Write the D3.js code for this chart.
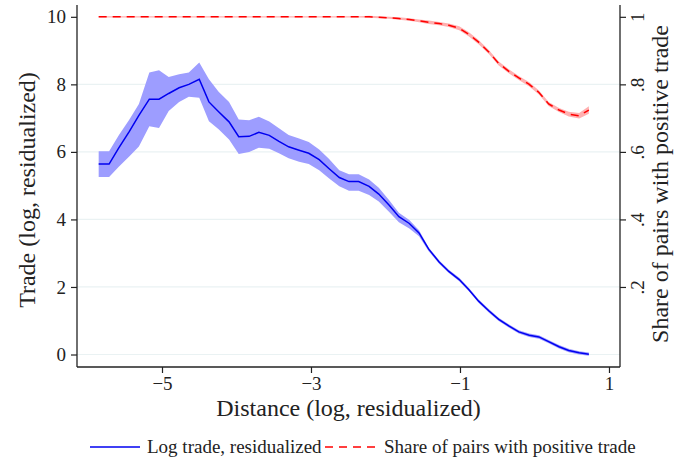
<!DOCTYPE html>
<html>
<head>
<meta charset="utf-8">
<script src="https://cdn.jsdelivr.net/npm/d3@7"></script>
<style>
  body { margin: 0; background: #fff; }
  svg { display: block; font-family: "Liberation Serif", "Times New Roman", serif; }
</style>
</head>
<body>
<div id="plot"></div>
<script>

// ############ DATA ###############

// distance (log, residualized), one bin every ~0.134
const dist = [-5.85, -5.71, -5.58, -5.44, -5.31, -5.17, -5.04, -4.91, -4.77, -4.64,
  -4.50, -4.37, -4.24, -4.10, -3.97, -3.83, -3.70, -3.56, -3.43, -3.30,
  -3.16, -3.03, -2.89, -2.76, -2.62, -2.49, -2.36, -2.22, -2.09, -1.95,
  -1.82, -1.68, -1.55, -1.42, -1.28, -1.15, -1.01, -0.88, -0.75, -0.61,
  -0.48, -0.34, -0.21, -0.07, 0.06, 0.19, 0.33, 0.46, 0.60, 0.73];

const trade = [5.64, 5.64, 6.12, 6.60, 7.08, 7.56, 7.56, 7.73, 7.90, 8.00,
  8.15, 7.48, 7.19, 6.89, 6.45, 6.46, 6.58, 6.49, 6.31, 6.15,
  6.05, 5.96, 5.77, 5.51, 5.24, 5.12, 5.12, 4.98, 4.75, 4.42,
  4.08, 3.88, 3.60, 3.12, 2.74, 2.46, 2.22, 1.92, 1.58, 1.29,
  1.04, 0.84, 0.67, 0.57, 0.52, 0.38, 0.23, 0.12, 0.05, 0.01];

const tradeHi = [6.02, 6.02, 6.49, 6.95, 7.42, 8.35, 8.42, 8.22, 8.30, 8.35,
  8.65, 8.15, 7.78, 7.48, 6.96, 6.94, 7.04, 6.90, 6.70, 6.50,
  6.40, 6.29, 6.07, 5.80, 5.46, 5.34, 5.34, 5.18, 4.94, 4.57,
  4.20, 3.98, 3.68, 3.17, 2.79, 2.51, 2.27, 1.97, 1.63, 1.34,
  1.09, 0.89, 0.72, 0.62, 0.57, 0.43, 0.28, 0.17, 0.10, 0.06];

const tradeLo = [5.26, 5.26, 5.56, 5.86, 6.16, 6.76, 6.71, 7.21, 7.48, 7.63,
  7.60, 6.91, 6.67, 6.37, 5.94, 6.00, 6.12, 6.09, 5.96, 5.81,
  5.71, 5.64, 5.46, 5.22, 4.98, 4.85, 4.85, 4.72, 4.53, 4.22,
  3.92, 3.73, 3.50, 3.06, 2.69, 2.41, 2.17, 1.87, 1.53, 1.24,
  0.99, 0.79, 0.62, 0.52, 0.47, 0.33, 0.18, 0.07, 0.00, -0.04];

const share = [1, 1, 1, 1, 1, 1, 1, 1, 1, 1,
  1, 1, 1, 1, 1, 1, 1, 1, 1, 1,
  1, 1, 1, 1, 1, 1, 1, 1, 0.999, 0.997,
  0.995, 0.992, 0.988, 0.984, 0.980, 0.975, 0.966, 0.948, 0.925, 0.895,
  0.862, 0.838, 0.819, 0.800, 0.776, 0.742, 0.724, 0.712, 0.707, 0.724];

const shareErr = [0.002, 0.002, 0.002, 0.002, 0.002, 0.002, 0.002, 0.002, 0.002, 0.002,
  0.002, 0.002, 0.002, 0.002, 0.002, 0.002, 0.002, 0.002, 0.002, 0.002,
  0.002, 0.002, 0.002, 0.002, 0.002, 0.002, 0.002, 0.003, 0.003, 0.003,
  0.004, 0.004, 0.004, 0.005, 0.005, 0.005, 0.006, 0.006, 0.006, 0.006,
  0.006, 0.006, 0.006, 0.006, 0.006, 0.006, 0.006, 0.007, 0.008, 0.011];

const xTicks = [-5, -3, -1, 1];
const yTicks = [0, 2, 4, 6, 8, 10];
const y2Ticks = [0.2, 0.4, 0.6, 0.8, 1];
const y2Labels = [".2", ".4", ".6", ".8", "1"];

const legendLabels = ["Log trade, residualized", "Share of pairs with positive trade"];

// ############ SETUP ###############

const w = 676, h = 461;
const margin = {top: 5, right: 56, bottom: 94, left: 77};
const innerWidth = w - margin.left - margin.right;
const innerHeight = h - margin.top - margin.bottom;
const serif = "Liberation Serif, Times New Roman, serif";

const xScale = d3.scaleLinear().domain([-6.141, 1.148]).range([0, innerWidth]);
const yScale = d3.scaleLinear().domain([-0.37, 10.35]).range([innerHeight, 0]);
const y2Scale = d3.scaleLinear().domain([-0.037, 1.035]).range([innerHeight, 0]);

const pts = dist.map((d, i) => ({x: d, y: trade[i], lo: tradeLo[i], hi: tradeHi[i],
  s: share[i], slo: share[i] - shareErr[i], shi: share[i] + shareErr[i]}));

const svg = d3.select("div#plot")
  .append("svg")
  .attr("width", w)
  .attr("height", h);

const plot = svg.append("g")
  .attr("id", "plotarea")
  .attr("transform", `translate( ${margin.left}, ${margin.top} )`);

// gridlines
plot.append("g")
  .selectAll("line")
  .data(yTicks.filter(d => d < 10))
  .enter()
  .append("line")
    .attr("x1", 0)
    .attr("x2", innerWidth)
    .attr("y1", d => yScale(d))
    .attr("y2", d => yScale(d))
    .attr("stroke", "#eaf2f3")
    .attr("stroke-width", 1.2);

// confidence bands
plot.append("path")
  .datum(pts)
  .attr("fill", "#9d9dff")
  .attr("d", d3.area().x(d => xScale(d.x)).y0(d => yScale(d.lo)).y1(d => yScale(d.hi)));

plot.append("path")
  .datum(pts)
  .attr("fill", "#ffb0b0")
  .attr("d", d3.area().x(d => xScale(d.x)).y0(d => y2Scale(d.slo)).y1(d => y2Scale(d.shi)));

// lines
plot.append("path")
  .datum(pts)
  .attr("fill", "none")
  .attr("stroke", "#0000f0")
  .attr("stroke-width", 1.5)
  .attr("d", d3.line().x(d => xScale(d.x)).y(d => yScale(d.y)));

plot.append("path")
  .datum(pts)
  .attr("fill", "none")
  .attr("stroke", "#ff0000")
  .attr("stroke-width", 1.5)
  .attr("stroke-dasharray", "8,6")
  .attr("d", d3.line().x(d => xScale(d.x)).y(d => y2Scale(d.s)));

// ############ AXES ###############

const xAxis = d3.axisBottom(xScale).tickValues(xTicks).tickSize(6).tickPadding(4)
  .tickFormat(d => d < 0 ? "\u2212" + Math.abs(d) : d);
const yAxis = d3.axisLeft(yScale).tickValues(yTicks).tickSize(6).tickPadding(5);
const y2Axis = d3.axisRight(y2Scale).tickValues(y2Ticks).tickSize(6)
  .tickFormat((d, i) => y2Labels[i]);

plot.append("g")
  .attr("id", "xaxis")
  .attr("transform", `translate(0, ${innerHeight})`)
  .call(xAxis);

plot.append("g")
  .attr("id", "yaxis")
  .call(yAxis);

plot.append("g")
  .attr("id", "y2axis")
  .attr("transform", `translate(${innerWidth}, 0)`)
  .call(y2Axis);

plot.selectAll("g#xaxis, g#yaxis, g#y2axis")
  .attr("font-family", serif)
  .attr("font-size", 19);

plot.selectAll(".domain").attr("stroke", "#222").attr("stroke-width", 1.3);
plot.selectAll(".tick line").attr("stroke", "#222").attr("stroke-width", 1.2);
plot.selectAll(".tick text").attr("fill", "#222");

// vertical labels on the right axis
plot.select("g#y2axis").selectAll(".tick text")
  .attr("x", null)
  .attr("dy", null)
  .attr("text-anchor", "middle")
  .attr("transform", "translate(24, 0) rotate(-90)");

// domain paths without the outer tick stubs
plot.select("g#xaxis .domain").attr("d", `M0,0H${innerWidth}`);
plot.select("g#yaxis .domain").attr("d", `M0,0V${innerHeight}`);
plot.select("g#y2axis .domain").attr("d", `M0,0V${innerHeight}`);

// axis titles
svg.append("text")
  .attr("x", margin.left + innerWidth / 2)
  .attr("y", 416)
  .attr("text-anchor", "middle")
  .attr("font-size", 24)
  .attr("fill", "#222")
  .text("Distance (log, residualized)");

svg.append("text")
  .attr("text-anchor", "middle")
  .attr("font-size", 24)
  .attr("fill", "#222")
  .attr("transform", "translate(35, 190) rotate(-90)")
  .text("Trade (log, residualized)");

svg.append("text")
  .attr("text-anchor", "middle")
  .attr("font-size", 24)
  .attr("fill", "#222")
  .attr("transform", "translate(668, 184) rotate(-90)")
  .text("Share of pairs with positive trade");

// ############ LEGEND ###############

const legend = svg.append("g").attr("id", "legend");

legend.append("line")
  .attr("x1", 90).attr("x2", 140)
  .attr("y1", 447).attr("y2", 447)
  .attr("stroke", "#0000f0").attr("stroke-width", 1.5);

legend.append("text")
  .attr("x", 147).attr("y", 453)
  .attr("font-size", 19).attr("fill", "#222")
  .text(legendLabels[0]);

legend.append("line")
  .attr("x1", 325).attr("x2", 377)
  .attr("y1", 447).attr("y2", 447)
  .attr("stroke", "#ff0000").attr("stroke-width", 1.5)
  .attr("stroke-dasharray", "8,6");

legend.append("text")
  .attr("x", 384).attr("y", 453)
  .attr("font-size", 19).attr("fill", "#222")
  .text(legendLabels[1]);

</script>
</body>
</html>
